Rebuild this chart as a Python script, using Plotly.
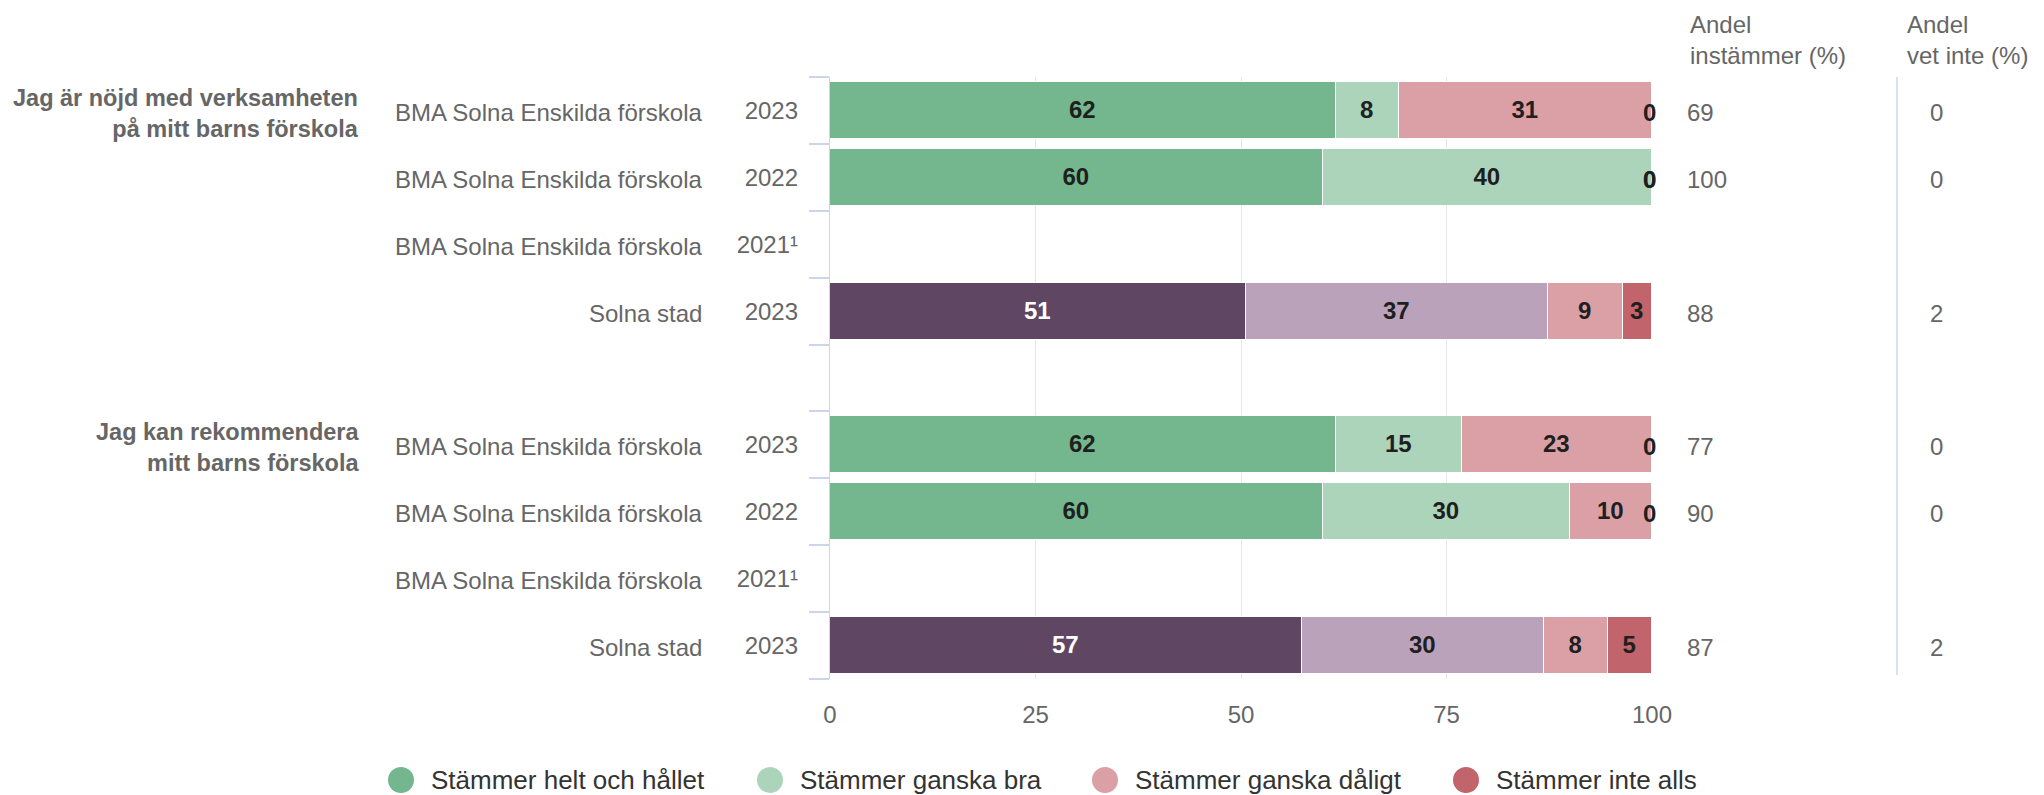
import plotly.graph_objects as go

# ---------------- data ----------------
groups = ["Jag är nöjd med verksamheten<br>på mitt barns förskola",
          "Jag kan rekommendera<br>mitt barns förskola"]
units = ["BMA Solna Enskilda förskola", "BMA Solna Enskilda förskola",
         "BMA Solna Enskilda förskola", "Solna stad"]
years = ["2023", "2022", "2021¹", "2023"]
series_names = ["Stämmer helt och hållet", "Stämmer ganska bra",
                "Stämmer ganska dåligt", "Stämmer inte alls"]

# rows: group 1 (4 rows) then group 2 (4 rows); None = no data (2021¹)
helt = [61.5, 60.0, None, 50.6, 61.5, 60.0, None, 57.4]
bra = [7.7, 40.0, None, 36.8, 15.4, 30.0, None, 29.4]
daligt = [30.8, 0.0, None, 9.1, 23.1, 10.0, None, 7.8]
inte = [0.0, 0.0, None, 3.5, 0.0, 0.0, None, 5.4]

helt_lbl = [62, 60, None, 51, 62, 60, None, 57]
bra_lbl = [8, 40, None, 37, 15, 30, None, 30]
daligt_lbl = [31, 0, None, 9, 23, 10, None, 8]
inte_lbl = [0, 0, None, 3, 0, 0, None, 5]

andel_instammer = [69, 100, None, 88, 77, 90, None, 87]
andel_vet_inte = [0, 0, None, 2, 0, 0, None, 2]

x_ticks = [0, 25, 50, 75, 100]
header_instammer = "Andel<br>instämmer (%)"
header_vet_inte = "Andel<br>vet inte (%)"

# ---------------- styles ----------------
FONT = "Liberation Sans, Arial, sans-serif"
FS = 24
FS_GROUP = 23.5
FS_LEG = 26
GREY = "#666666"
DARK = "#1f1f1f"
school_colors = ["#74b78e", "#acd4bb", "#daa0a6", "#c1646c"]
city_colors = ["#5f4763", "#bba2bb", "#daa0a6", "#c1646c"]
city_text = ["#ffffff", DARK, DARK, DARK]
school_text = [DARK, DARK, DARK, DARK]

W, H = 2044, 795
PLOT_L, PLOT_R, PLOT_T, PLOT_B = 830, 1652, 77, 679
PW = PLOT_R - PLOT_L
PH = PLOT_B - PLOT_T


def px_x(px):
    return (px - PLOT_L) / PW


def px_y(px):
    return (PLOT_B - px) / PH


values = [helt, bra, daligt, inte]
labels = [helt_lbl, bra_lbl, daligt_lbl, inte_lbl]

# row positions (blank separator row between the two groups)
row_units = units * len(groups)
row_years = years * len(groups)
row_y = [gi * (len(units) + 1) + ri for gi in range(len(groups)) for ri in range(len(units))]
is_city = [u == "Solna stad" for u in row_units]
n_slots = len(groups) * (len(units) + 1) - 1  # 9 slots

fig = go.Figure()

for si, name in enumerate(series_names):
    vals = values[si]
    lbls = labels[si]
    colors = [city_colors[si] if c else school_colors[si] for c in is_city]
    tcols = [city_text[si] if c else school_text[si] for c in is_city]
    texts = [str(l) if (v is not None and v > 0) else "" for v, l in zip(vals, lbls)]
    fig.add_trace(go.Bar(
        x=vals, y=row_y, orientation="h", name=name,
        marker=dict(color=colors, line=dict(color="#ffffff", width=1.5)),
        width=0.85,
        text=texts, textposition="inside", insidetextanchor="middle",
        textangle=0, constraintext="none",
        textfont=dict(family=FONT, size=FS, color=tcols, weight="bold"),
        showlegend=False, hoverinfo="x+name",
    ))

annotations = []
shapes = []

# zero-value labels at the bar end
for ri, y in enumerate(row_y):
    cum = 0.0
    for si in range(len(series_names)):
        v = values[si][ri]
        if v is None:
            continue
        cum += v
        if v == 0:
            annotations.append(dict(
                x=cum, y=y, xref="x", yref="y", text=str(labels[si][ri]),
                showarrow=False, xanchor="right", xshift=6, yshift=-2,
                font=dict(family=FONT, size=FS, color=DARK, weight="bold")))

# unit labels
for ri, y in enumerate(row_y):
    annotations.append(dict(
        x=px_x(704), y=y, xref="paper", yref="y", text=row_units[ri],
        showarrow=False, xanchor="right", yshift=-2,
        font=dict(family=FONT, size=FS, color=GREY)))

# group labels
for gi, g in enumerate(groups):
    annotations.append(dict(
        x=px_x(361), y=row_y[gi * len(units)], xref="paper", yref="y", text=g,
        showarrow=False, xanchor="right", align="right", yshift=-3,
        font=dict(family=FONT, size=FS_GROUP, color=GREY, weight="bold")))

# right-hand columns
for hx, htxt in [(1688, header_instammer), (1905, header_vet_inte)]:
    annotations.append(dict(
        x=px_x(hx), y=px_y(40), xref="paper", yref="paper",
        text=htxt, showarrow=False, xanchor="left", yanchor="middle", align="left",
        font=dict(family=FONT, size=FS, color=GREY)))
for ri, y in enumerate(row_y):
    if andel_instammer[ri] is not None:
        annotations.append(dict(
            x=px_x(1685), y=y, xref="paper", yref="y", text=str(andel_instammer[ri]),
            showarrow=False, xanchor="left", yshift=-2,
            font=dict(family=FONT, size=FS, color=GREY)))
    if andel_vet_inte[ri] is not None:
        annotations.append(dict(
            x=px_x(1936), y=y, xref="paper", yref="y", text=str(andel_vet_inte[ri]),
            showarrow=False, xanchor="center", yshift=-2,
            font=dict(family=FONT, size=FS, color=GREY)))

shapes.append(dict(type="line", xref="paper", yref="paper",
                   x0=px_x(1897), x1=px_x(1897), y0=px_y(77), y1=px_y(675),
                   line=dict(color="#ccd6eb", width=1.5)))

# legend (circle + label per series)
legend_centers_px = [401, 770, 1105, 1466]
LEG_Y = 780
for si, name in enumerate(series_names):
    cx = legend_centers_px[si]
    shapes.append(dict(type="circle", xref="paper", yref="paper",
                       xsizemode="pixel", ysizemode="pixel",
                       xanchor=px_x(cx), yanchor=px_y(LEG_Y),
                       x0=-13, x1=13, y0=-13, y1=13,
                       fillcolor=school_colors[si], line=dict(width=0)))
    annotations.append(dict(
        x=px_x(cx + 28), y=px_y(LEG_Y), xref="paper", yref="paper", text=name,
        showarrow=False, xanchor="left", yanchor="middle",
        font=dict(family=FONT, size=FS_LEG, color="#333333")))

fig.update_layout(
    width=W, height=H,
    margin=dict(l=PLOT_L, r=W - PLOT_R, t=PLOT_T, b=H - PLOT_B, pad=0),
    paper_bgcolor="#ffffff", plot_bgcolor="#ffffff",
    barmode="stack", bargap=0, showlegend=False,
    font=dict(family=FONT, size=FS, color=GREY),
    xaxis=dict(range=[0, 100], tickvals=x_ticks, showgrid=True, gridcolor="#e6e6e6",
               gridwidth=1.3, zeroline=False, showline=False, ticks="",
               ticklabelstandoff=19, tickfont=dict(family=FONT, size=FS, color=GREY),
               fixedrange=True),
    yaxis=dict(range=[n_slots - 0.5, -0.5], tickvals=row_y, ticktext=row_years,
               ticks="", showgrid=False, zeroline=False,
               showline=True, linecolor="#ccd6eb", linewidth=1.3,
               ticklabelstandoff=26, tickfont=dict(family=FONT, size=FS, color=GREY),
               minor=dict(tickvals=[i - 0.5 for i in range(n_slots + 1)], ticks="outside",
                          ticklen=20, tickcolor="#ccd6eb", tickwidth=1.5),
               fixedrange=True),
    annotations=annotations, shapes=shapes,
)

fig.write_html("out.html", config={"displayModeBar": False},
               post_script="document.body.style.margin='0px';")
